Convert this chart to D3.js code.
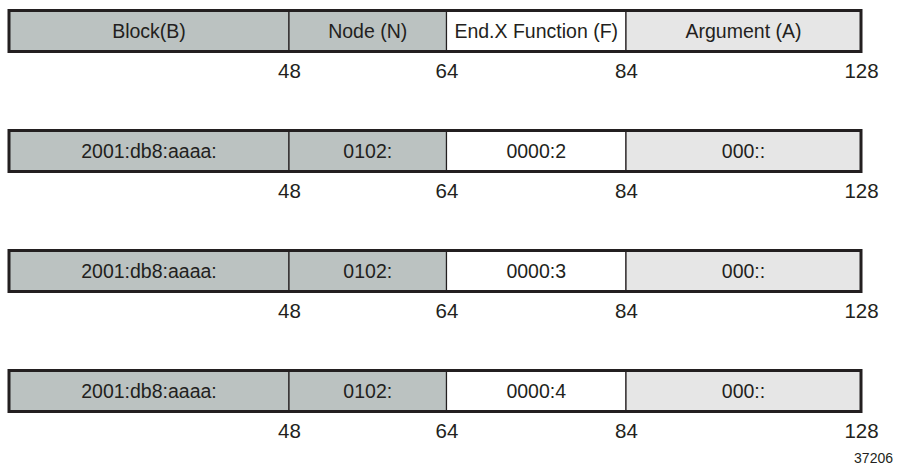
<!DOCTYPE html>
<html><head><meta charset="utf-8">
<script src="https://cdn.jsdelivr.net/npm/d3@7"></script>
<style>html,body{margin:0;padding:0;background:#fff;}svg{display:block;}</style>
</head><body>
<svg id="c" width="905" height="466"></svg>
<script>
const bitBoundaries = [0, 48, 64, 84, 128];
const tickLabels = ["48", "64", "84", "128"];
const fieldNames = ["Block(B)", "Node (N)", "End.X Function (F)", "Argument (A)"];
const row2 = ["2001:db8:aaaa:", "0102:", "0000:2", "000::"];
const row3 = ["2001:db8:aaaa:", "0102:", "0000:3", "000::"];
const row4 = ["2001:db8:aaaa:", "0102:", "0000:4", "000::"];
const rows = [fieldNames, row2, row3, row4];
const fills = ["#bbc2c1", "#bbc2c1", "#ffffff", "#e6e6e6"];
const figureId = "37206";

const svg = d3.select("#c");
const font = "'Liberation Sans', Arial, Helvetica, sans-serif";
const stroke = "#231f20";

// schematic (non-proportional) piecewise scale for bit positions
const x = d3.scaleLinear().domain(bitBoundaries).range([9, 289, 446.5, 626, 861]);
const y = d3.scaleBand().domain(d3.range(rows.length)).range([9, 489]).paddingInner(0);
const boxH = 42;

rows.forEach((labels, r) => {
  const g = svg.append("g").attr("transform", `translate(0,${y(r) + 1.5})`);
  const segs = labels.map((t, i) => ({t, i, x0: bitBoundaries[i], x1: bitBoundaries[i + 1]}));
  g.selectAll("rect.seg").data(segs).join("rect")
    .attr("class", "seg")
    .attr("x", d => x(d.x0)).attr("y", 0)
    .attr("width", d => x(d.x1) - x(d.x0)).attr("height", boxH - 1)
    .attr("fill", d => fills[d.i])
    .attr("stroke", stroke).attr("stroke-width", 1.2);
  g.append("rect")
    .attr("x", x(0)).attr("y", 0)
    .attr("width", x(128) - x(0)).attr("height", boxH - 1)
    .attr("fill", "none").attr("stroke", stroke).attr("stroke-width", 3);
  g.selectAll("text.lab").data(segs).join("text")
    .attr("class", "lab")
    .attr("x", d => (x(d.x0) + x(d.x1)) / 2)
    .attr("y", boxH / 2 - 0.5)
    .attr("dy", "0.35em")
    .attr("text-anchor", "middle")
    .attr("font-family", font).attr("font-size", 19.5)
    .attr("fill", stroke)
    .text(d => d.t);
  const axis = d3.axisBottom(x).tickValues(bitBoundaries.slice(1))
    .tickFormat((d, i) => tickLabels[i]).tickSize(0).tickPadding(0);
  const ag = g.append("g").attr("transform", `translate(0,${boxH + 25.5})`).call(axis);
  ag.select(".domain").remove();
  ag.selectAll("text").attr("font-family", font).attr("font-size", 20.5)
    .attr("fill", stroke).attr("dy", 0).attr("y", 0);
});

svg.append("text").attr("x", 893).attr("y", 463)
  .attr("text-anchor", "end").attr("font-family", font).attr("font-size", 14)
  .attr("fill", stroke).text(figureId);
</script>
</body></html>
